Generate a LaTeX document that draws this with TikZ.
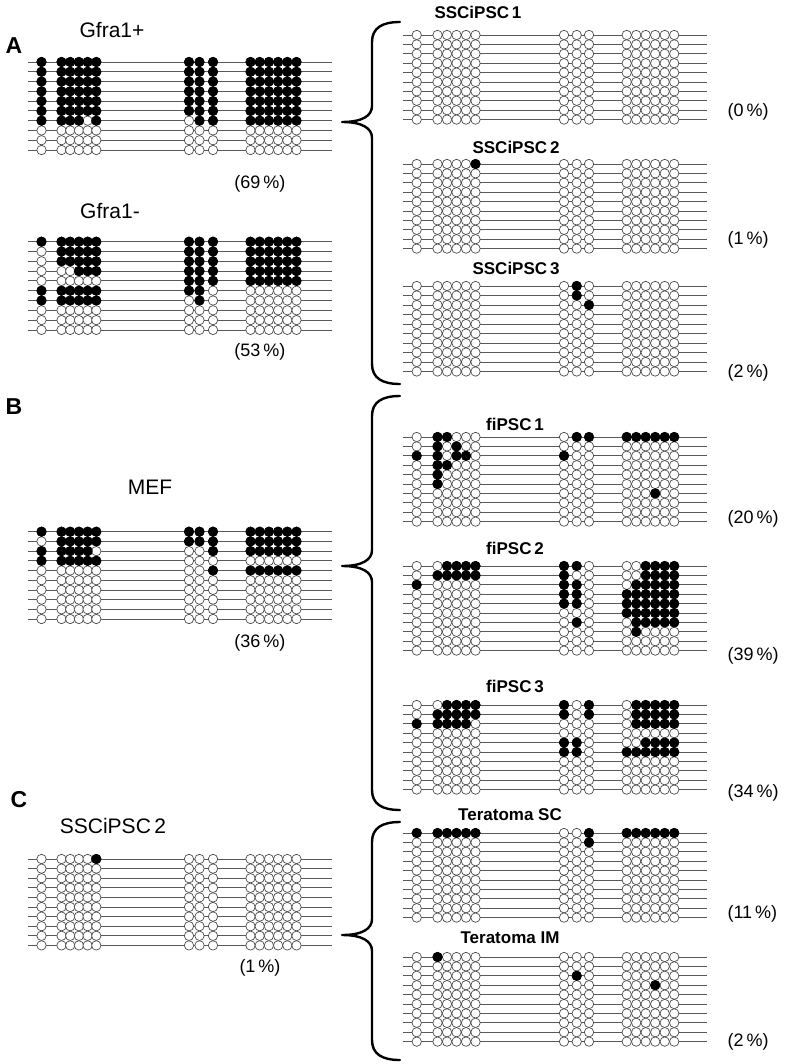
\documentclass[tikz,border=0pt]{standalone}
\usepackage{fontspec}
\setmainfont{Liberation Sans}
\usetikzlibrary{calc}
\def\LX{{41.5,61.5,70.2,78.9,87.6,96.3,189,199.5,213,250.5,259.7,268.9,278.1,287.3,296.5}}
\def\RX{{416.7,437.5,447,456.5,466,475.5,564,576.7,589,626.7,636.2,645.7,655.2,664.7,674.2}}
\def\crad{4.7pt}
% #1 x-array, #2 line start, #3 line end, #4 first row y, #5 row step
\newcommand\mblock[5]{%
  \foreach \r in {0,...,9}{%
    \pgfmathsetmacro\yy{#4+\r*#5}%
    \draw[rowline] (#2,\yy) -- (#3,\yy);
    \foreach \c in {0,...,14}{%
      \pgfmathsetmacro\xx{#1[\c]}%
      \draw[ucirc] (\xx,\yy) circle[radius=\crad];
    }%
  }%
}
% #1 x-array, #2 first row y, #3 row step, #4 list row/col
\newcommand\mfill[4]{%
  \foreach \r/\c in {#4}{%
    \pgfmathsetmacro\yy{#2+(\r-1)*#3}%
    \pgfmathsetmacro\xx{#1[\c-1]}%
    \draw[mcirc] (\xx,\yy) circle[radius=\crad];
  }%
}
\begin{document}
\begin{tikzpicture}[x=1pt,y=-1pt,
  rowline/.style={draw=black!65,line width=0.8pt},
  ucirc/.style={fill=white,draw=black!70,line width=0.7pt},
  mcirc/.style={fill=black,draw=black,line width=0.7pt},
  panel/.style={font=\fontsize{23}{25}\selectfont\bfseries},
  ltitle/.style={font=\fontsize{21}{23}\selectfont},
  rtitle/.style={font=\fontsize{17}{19}\selectfont\bfseries},
  pct/.style={font=\fontsize{18}{20}\selectfont},
  bracestyle/.style={line width=2.4pt,line cap=round,line join=round}]
\useasboundingbox (0,0) rectangle (787,1064);
\fill[white] (0,0) rectangle (787,1064);

% panel letters
\node[panel] (pA) at (14,46) {A};
\node[panel] (pB) at (14,407) {B};
\node[panel] (pC) at (19,800) {C};

% ---------- left blocks ----------
\node[ltitle] (tG1) at (112,30) {Gfra1+};
\mblock{\LX}{28}{332}{62}{9.78}
\mfill{\LX}{62}{9.78}{1/1,1/2,1/3,1/4,1/5,1/6,1/7,1/8,1/9,1/10,1/11,1/12,1/13,1/14,1/15,
2/1,2/2,2/3,2/4,2/5,2/6,2/7,2/8,2/9,2/10,2/11,2/12,2/13,2/14,2/15,
3/1,3/2,3/3,3/4,3/5,3/6,3/7,3/8,3/9,3/10,3/11,3/12,3/13,3/14,3/15,
4/1,4/2,4/3,4/4,4/5,4/6,4/7,4/8,4/9,4/10,4/11,4/12,4/13,4/14,4/15,
5/1,5/2,5/3,5/4,5/5,5/6,5/7,5/8,5/9,5/10,5/11,5/12,5/13,5/14,5/15,
6/1,6/2,6/3,6/4,6/5,6/6,6/7,6/8,6/9,6/10,6/11,6/12,6/13,6/14,6/15,
7/1,7/2,7/3,7/4,7/6,7/8,7/9,7/10,7/11,7/12,7/13,7/14,7/15}
\node[pct] (pG1) at (260,184) {(69\,\%)};

\node[ltitle] (tG2) at (110,211) {Gfra1-};
\mblock{\LX}{28}{332}{241.7}{9.8}
\mfill{\LX}{241.7}{9.8}{1/1,1/2,1/3,1/4,1/5,1/6,1/7,1/8,1/9,1/10,1/11,1/12,1/13,1/14,1/15,
2/2,2/3,2/4,2/5,2/6,2/7,2/8,2/9,2/10,2/11,2/12,2/13,2/14,2/15,
3/2,3/3,3/4,3/5,3/6,3/7,3/8,3/9,3/10,3/11,3/12,3/13,3/14,3/15,
4/4,4/5,4/6,4/7,4/8,4/9,4/10,4/11,4/12,4/13,4/14,4/15,
5/7,5/8,5/9,5/10,5/11,5/12,5/13,5/14,5/15,
6/1,6/2,6/3,6/4,6/5,6/6,6/7,6/8,
7/1,7/2,7/3,7/4,7/5,7/6,7/8}
\node[pct] (pG2) at (260,352) {(53\,\%)};

\node[ltitle] (tMEF) at (150,487) {MEF};
\mblock{\LX}{28}{332}{531.7}{9.7}
\mfill{\LX}{531.7}{9.7}{1/1,1/2,1/3,1/4,1/5,1/6,1/7,1/8,1/9,1/10,1/11,1/12,1/13,1/14,1/15,
2/2,2/3,2/4,2/5,2/6,2/7,2/8,2/9,2/10,2/11,2/12,2/13,2/14,2/15,
3/1,3/2,3/3,3/4,3/5,3/9,3/10,3/11,3/12,3/13,3/14,3/15,
4/1,4/2,4/3,4/4,4/5,4/6,
5/9,5/10,5/11,5/12,5/13,5/14,5/15}
\node[pct] (pMEF) at (260,643) {(36\,\%)};

\node[ltitle] (tS2L) at (113,826) {SSCiPSC\,2};
\mblock{\LX}{28}{332}{859}{9.6}
\mfill{\LX}{859}{9.6}{1/6}
\node[pct] (pS2L) at (260,968) {(1\,\%)};

% ---------- right blocks ----------
\node[rtitle] (tS1) at (478,12) {SSCiPSC\,1};
\mblock{\RX}{403}{707}{35}{9.4}
\node[pct,anchor=west] (pS1) at (724,112) {(0\,\%)};

\node[rtitle] (tS2) at (516,147) {SSCiPSC\,2};
\mblock{\RX}{403}{707}{164}{9.4}
\mfill{\RX}{164}{9.4}{1/6}
\node[pct,anchor=west] (pS2) at (724,240) {(1\,\%)};

\node[rtitle] (tS3) at (516,268) {SSCiPSC\,3};
\mblock{\RX}{403}{707}{286}{9.5}
\mfill{\RX}{286}{9.5}{1/8,2/8,3/9}
\node[pct,anchor=west] (pS3) at (724,373) {(2\,\%)};

\node[rtitle] (tF1) at (515,424) {fiPSC\,1};
\mblock{\RX}{403}{707}{437}{9.4}
\mfill{\RX}{437}{9.4}{1/2,1/3,1/8,1/9,1/10,1/11,1/12,1/13,1/14,1/15,2/2,2/4,3/1,3/2,3/4,3/5,3/7,4/2,4/3,5/2,6/2,7/13}
\node[pct,anchor=west] (pF1) at (724,519) {(20\,\%)};

\node[rtitle] (tF2) at (515,548) {fiPSC\,2};
\mblock{\RX}{403}{707}{566}{9.4}
\mfill{\RX}{566}{9.4}{1/3,1/4,1/5,1/6,1/7,1/8,1/12,1/13,1/14,1/15,
2/2,2/3,2/4,2/5,2/6,2/7,2/12,2/13,2/14,2/15,
3/1,3/7,3/8,3/11,3/12,3/13,3/14,3/15,
4/7,4/8,4/10,4/11,4/12,4/13,4/14,4/15,
5/7,5/8,5/10,5/11,5/12,5/13,5/14,5/15,
6/10,6/11,6/12,6/13,6/14,6/15,
7/8,7/11,7/12,7/13,7/14,7/15,8/11}
\node[pct,anchor=west] (pF2) at (724,656) {(39\,\%)};

\node[rtitle] (tF3) at (515,686) {fiPSC\,3};
\mblock{\RX}{403}{707}{705}{9.4}
\mfill{\RX}{705}{9.4}{1/3,1/4,1/5,1/6,1/7,1/9,1/11,1/12,1/13,1/14,1/15,
2/2,2/3,2/4,2/5,2/6,2/7,2/9,2/11,2/12,2/13,2/14,2/15,
3/1,3/2,3/3,3/4,3/5,3/11,3/12,3/13,3/14,3/15,
5/7,5/8,5/12,5/13,5/14,5/15,
6/7,6/8,6/10,6/11,6/12,6/13,6/14,6/15}
\node[pct,anchor=west] (pF3) at (724,793) {(34\,\%)};

\node[rtitle] (tTS) at (510,815) {Teratoma SC};
\mblock{\RX}{403}{707}{833}{9.4}
\mfill{\RX}{833}{9.4}{1/1,1/2,1/3,1/4,1/5,1/6,1/9,1/10,1/11,1/12,1/13,1/14,1/15,2/9}
\node[pct,anchor=west] (pTS) at (724,914) {(11\,\%)};

\node[rtitle] (tTI) at (510,938) {Teratoma IM};
\mblock{\RX}{403}{707}{957}{9.4}
\mfill{\RX}{957}{9.4}{1/2,3/8,4/13}
\node[pct,anchor=west] (pTI) at (724,1042) {(2\,\%)};

% ---------- braces ----------
\draw[bracestyle] (400,22) .. controls (382,22) and (372,28) .. (372,42) -- (372,106) .. controls (372,116) and (362,122) .. (342,122) .. controls (362,122) and (372,128) .. (372,138) -- (372,364) .. controls (372,378) and (382,384) .. (400,384);
\draw[bracestyle] (400,396) .. controls (382,396) and (372,402) .. (372,416) -- (372,550) .. controls (372,560) and (362,566) .. (342,566) .. controls (362,566) and (372,572) .. (372,582) -- (372,790) .. controls (372,804) and (382,810) .. (400,810);
\draw[bracestyle] (400,822) .. controls (382,822) and (372,828) .. (372,842) -- (372,919) .. controls (372,929) and (362,935) .. (342,935) .. controls (362,935) and (372,941) .. (372,951) -- (372,1040) .. controls (372,1054) and (382,1060) .. (400,1060);
\end{tikzpicture}
\end{document}
